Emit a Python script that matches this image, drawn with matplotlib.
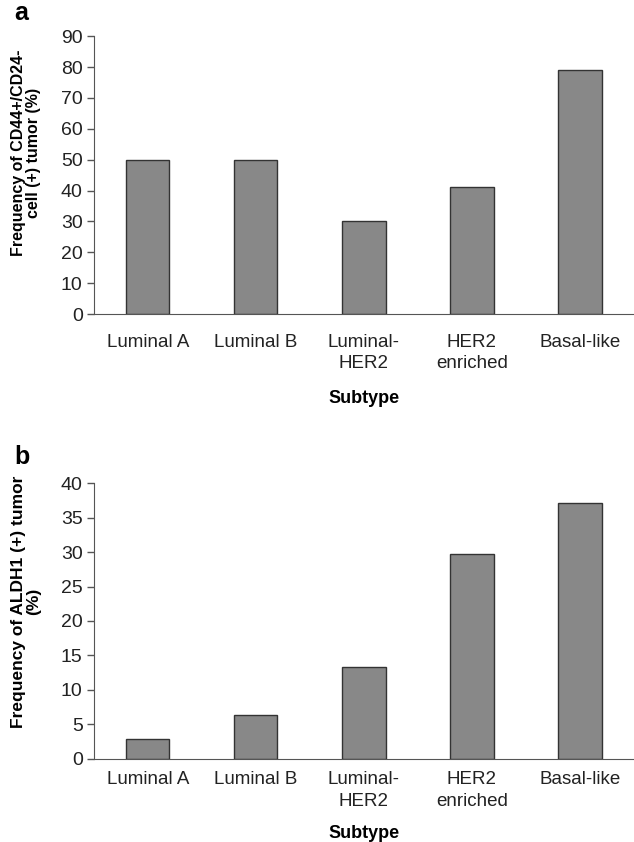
import numpy as np
import matplotlib.pyplot as plt

plt.rcParams['font.family'] = ['Liberation Sans', 'DejaVu Sans']

# subtypes on the x axis
subtypes = ['Luminal A', 'Luminal B', 'Luminal-\nHER2', 'HER2\nenriched', 'Basal-like']

# panel a: CD44+/CD24- cell (+) tumor frequency
cd44_freq = [50, 50, 30, 41, 79]
# panel b: ALDH1 (+) tumor frequency
aldh1_freq = [2.9, 6.3, 13.3, 29.8, 37.1]

fig = plt.figure(figsize=(6.34, 8.42), dpi=100)

ax1 = fig.add_axes([0.148, 0.627, 0.852, 0.330])
ax2 = fig.add_axes([0.148, 0.099, 0.852, 0.327])


def draw_panel(ax, vals, ymax, step, ylabel, ylab_size, ylab_y, letter, letter_y, tpad, xpad):
    x = np.arange(len(subtypes))
    ax.bar(x, vals, width=0.4, color='#888888', edgecolor='#333333', linewidth=1.0, zorder=2)
    ax.set_xlim(-0.5, len(subtypes) - 0.5)
    ax.set_ylim(0, ymax)
    ax.set_yticks(np.arange(0, ymax + 1, step))
    ax.set_xticks(x)
    ax.set_xticklabels(subtypes, fontsize=13.5, color='#222222', linespacing=1.35)
    ax.tick_params(axis='x', length=0, pad=tpad)
    ax.tick_params(axis='y', direction='out', length=5, width=1, color='#555555',
                   labelsize=14, labelcolor='#222222', pad=3)
    for s in ['top', 'right']:
        ax.spines[s].set_visible(False)
    ax.spines['left'].set_color('#555555')
    ax.spines['bottom'].set_color('#555555')
    ax.set_xlabel('Subtype', fontsize=13, fontweight='bold', labelpad=xpad)
    ax.set_ylabel(ylabel, fontsize=ylab_size, fontweight='bold', linespacing=1.05)
    ax.yaxis.set_label_coords(-0.097, ylab_y)
    ax.text(-0.148, letter_y, letter, transform=ax.transAxes, fontsize=18, fontweight='bold',
            ha='left', va='baseline')


draw_panel(ax1, cd44_freq, 90, 10, 'Frequency of CD44+/CD24-\ncell (+) tumor (%)',
           11.5, 0.58, 'a', 1.058, 14, 13)
draw_panel(ax2, aldh1_freq, 40, 5, 'Frequency of ALDH1 (+) tumor\n(%)',
           12.5, 0.57, 'b', 1.069, 9, 11)

fig.savefig('out.png', dpi=100)
